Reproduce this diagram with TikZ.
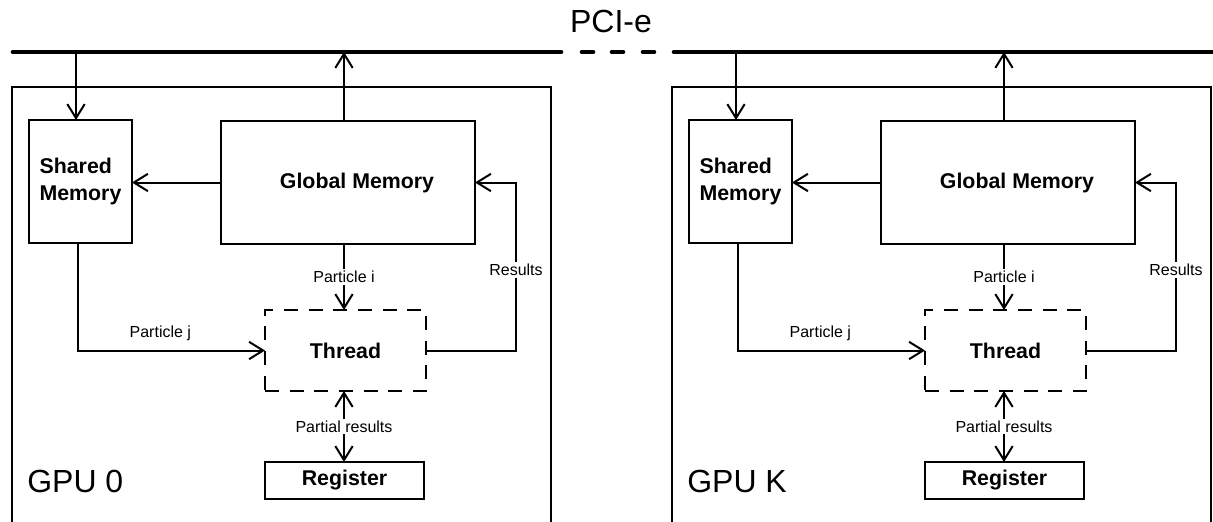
\documentclass[tikz,border=0pt]{standalone}
\usepackage{fontspec}
\setmainfont{Liberation Sans}
\usetikzlibrary{arrows.meta}
\tikzset{
  box/.style={draw, line width=1.5pt, inner sep=0pt, outer sep=0pt,
    font=\fontsize{16}{20.25}\selectfont\bfseries},
  dbox/.style={box, line width=2.2pt, dash pattern=on 10.5pt off 8pt},
  tip/.tip={Straight Barb[length=10.5pt,width=13pt,line width=1.5pt]},
  arr/.style={line width=1.5pt, -tip},
  darr/.style={line width=1.5pt, tip-tip},
  lbl/.style={fill=white, inner sep=1.5pt, font=\fontsize{12}{14}\selectfont},
  bus/.style={line width=3.5pt, line cap=round},
  big/.style={font=\fontsize{24}{28}\selectfont, inner sep=0pt},
  frame/.style={line width=1.5pt},
}
\newcommand\gpuunit[2]{%
  \draw[frame] (12,540) -- (12,87) -- (551,87) -- (551,540);
  \node[box, minimum width=77.25pt, minimum height=92.25pt, align=left] (#1sh) at (80.5,181.5) {Shared\\Memory};
  \node[box, minimum width=190.5pt, minimum height=92.25pt] (#1gl) at (348,182.5) {\hspace*{13.5pt}Global Memory};
  \node[dbox, minimum width=120.75pt, minimum height=60.75pt] (#1th) at (345.5,350.5) {Thread};
  \node[box, minimum width=119.25pt, minimum height=27.75pt] (#1rg) at (344.5,480.5) {Register};
  \node[big, anchor=west] (#1lab) at (27,481.5) {#2};
  \coordinate (#1bs) at (76,52);
  \coordinate (#1bg) at (344,52);
  \coordinate (#1rc) at (516,270);
  \draw[arr] (#1bs) -- (#1bs |- #1sh.north);
  \draw[arr] (#1bg |- #1gl.north) -- (#1bg);
  \draw[arr] (#1gl.west) -- (#1gl.west -| #1sh.east);
  \draw[arr] ([xshift=-1.8pt]#1sh.south) |- (#1th.west)
     node[pos=0.72, above=3pt, font=\fontsize{12}{14}\selectfont] (#1pj) {Particle j};
  \draw[arr] (#1bg |- #1gl.south) -- (#1bg |- #1th.north)
     node[lbl, midway] (#1pi) {Particle i};
  \draw[arr] (#1th.east) -| (#1rc) |- (#1gl.east);
  \node[lbl] (#1res) at (#1rc) {Results};
  \draw[darr] (#1bg |- #1th.south) -- (#1bg |- #1rg.north)
     node[lbl, midway] (#1pr) {Partial results};
}
\begin{document}
\begin{tikzpicture}[x=0.75pt,y=-0.75pt]
  \useasboundingbox (0,0) rectangle (1213,521);
  \clip (0,0) rectangle (1213,521);
  \node[big] (pcie) at (611,21) {PCI-e};
  \draw[bus] (13,52) -- (561,52);
  \draw[bus] (582,52) -- (593,52);
  \draw[bus] (612,52) -- (623,52);
  \draw[bus] (643,52) -- (654,52);
  \draw[bus] (674,52) -- (1225,52);
  \gpuunit{L}{GPU 0}
  \begin{scope}[shift={(660,0)}]
    \gpuunit{R}{GPU K}
  \end{scope}
\end{tikzpicture}
\end{document}
